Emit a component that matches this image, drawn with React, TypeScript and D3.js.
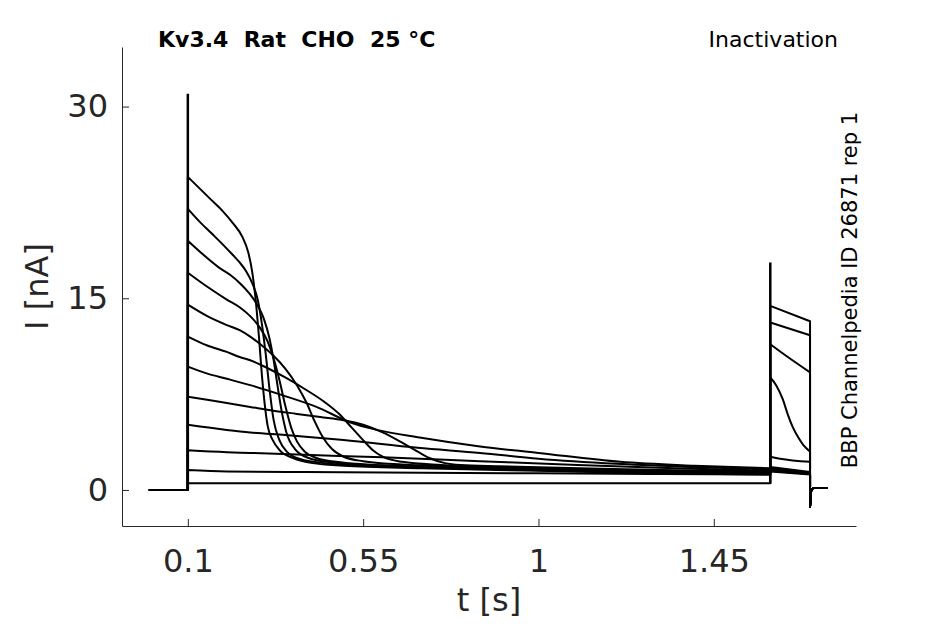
import { useEffect, useRef } from "react";
import * as d3 from "d3";

type Pt = [number, number]; // [time in s, current in nA]

// axis setup
const xTicks = [0.1, 0.55, 1, 1.45];
const yTicks = [0, 15, 30];
const xDomain: [number, number] = [-0.069, 1.815];
const yDomain: [number, number] = [-2.82, 34.66];

// holding level before the step and the tail after the test pulse
const baseline: Pt[] = [[0, 0], [0.1, 0]];
const tail: Pt[] = [[1.697, -1.3], [1.7, 0.0], [1.706, 0.15], [1.743, 0.15]];

// capacitive transients at the step onsets
const transients = [
  { t: 0.1, low: 0, peak: 31.0 },
  { t: 1.595, low: 0.5, peak: 17.8 },
];

// conditioning step, one sweep per voltage (highest current first)
const cond1: Pt[] = [[0.1, 24.5], [0.13, 23.6], [0.16, 22.7], [0.19, 21.8], [0.215, 20.9], [0.24, 19.8], [0.255, 18.6], [0.265, 17.1], [0.275, 14.6], [0.283, 11.8], [0.29, 9.0], [0.297, 6.8], [0.305, 5.0], [0.318, 3.9], [0.336, 3.1], [0.37, 2.5], [0.42, 2.1], [0.5, 1.9], [0.7, 1.7], [1.0, 1.5], [1.3, 1.3], [1.595, 1.2]];
const cond2: Pt[] = [[0.1, 22.0], [0.13, 21.0], [0.16, 20.1], [0.19, 19.2], [0.215, 18.4], [0.233, 17.8], [0.25, 17.1], [0.265, 16.2], [0.28, 14.8], [0.29, 13.0], [0.3, 10.6], [0.31, 7.8], [0.32, 5.5], [0.335, 3.9], [0.354, 3.0], [0.39, 2.4], [0.45, 2.1], [0.55, 1.9], [0.75, 1.75], [1.0, 1.55], [1.3, 1.35], [1.595, 1.25]];
const cond3: Pt[] = [[0.1, 19.5], [0.14, 18.4], [0.18, 17.4], [0.21, 16.8], [0.233, 16.2], [0.26, 15.3], [0.28, 14.4], [0.295, 13.4], [0.31, 11.8], [0.32, 10.2], [0.33, 8.2], [0.34, 6.3], [0.352, 4.6], [0.375, 3.2], [0.41, 2.5], [0.47, 2.15], [0.6, 1.9], [0.8, 1.75], [1.0, 1.6], [1.3, 1.4], [1.595, 1.3]];
const cond4: Pt[] = [[0.1, 17.0], [0.15, 15.9], [0.2, 14.9], [0.233, 14.3], [0.26, 13.6], [0.285, 12.7], [0.305, 11.6], [0.32, 10.3], [0.335, 8.6], [0.35, 6.6], [0.365, 4.9], [0.38, 3.8], [0.4, 3.0], [0.43, 2.5], [0.48, 2.2], [0.56, 2.0], [0.7, 1.85], [1.0, 1.6], [1.3, 1.45], [1.595, 1.3]];
const cond5: Pt[] = [[0.1, 14.5], [0.15, 13.6], [0.2, 12.9], [0.233, 12.5], [0.26, 12.0], [0.29, 11.3], [0.32, 10.5], [0.35, 9.5], [0.38, 8.2], [0.405, 6.8], [0.425, 5.4], [0.445, 4.2], [0.47, 3.2], [0.5, 2.6], [0.55, 2.25], [0.65, 2.0], [0.8, 1.85], [1.0, 1.65], [1.3, 1.45], [1.595, 1.35]];
const cond6: Pt[] = [[0.1, 12.0], [0.15, 11.3], [0.2, 10.8], [0.233, 10.4], [0.26, 10.15], [0.3, 9.6], [0.35, 8.8], [0.4, 7.9], [0.45, 6.9], [0.49, 5.9], [0.52, 4.9], [0.55, 3.9], [0.575, 3.1], [0.6, 2.6], [0.65, 2.2], [0.75, 1.95], [0.9, 1.8], [1.1, 1.65], [1.35, 1.45], [1.595, 1.35]];
const cond7: Pt[] = [[0.1, 9.65], [0.15, 9.1], [0.2, 8.7], [0.26, 8.2], [0.344, 7.4], [0.43, 6.5], [0.516, 5.3], [0.585, 4.7], [0.695, 4.1], [0.85, 3.4], [1.0, 2.9], [1.21, 2.2], [1.4, 1.9], [1.595, 1.7]];
const cond8: Pt[] = [[0.1, 7.3], [0.2, 6.8], [0.26, 6.5], [0.32, 6.2], [0.38, 5.95], [0.44, 5.7], [0.5, 5.45], [0.55, 5.1], [0.6, 4.5], [0.65, 3.7], [0.69, 3.0], [0.72, 2.5], [0.76, 2.1], [0.8, 1.95], [0.9, 1.85], [1.1, 1.7], [1.35, 1.55], [1.595, 1.45]];
const cond9: Pt[] = [[0.1, 5.1], [0.2, 4.7], [0.26, 4.5], [0.35, 4.3], [0.5, 3.9], [0.69, 3.3], [0.85, 2.9], [1.0, 2.45], [1.2, 2.05], [1.4, 1.8], [1.595, 1.6]];
const cond10: Pt[] = [[0.1, 3.1], [0.2, 2.95], [0.26, 2.9], [0.4, 2.75], [0.6, 2.55], [0.85, 2.25], [1.1, 1.95], [1.35, 1.7], [1.595, 1.5]];
const cond11: Pt[] = [[0.1, 1.56], [0.2, 1.45], [0.4, 1.4], [0.7, 1.35], [1.0, 1.3], [1.3, 1.25], [1.595, 1.2]];
const cond12: Pt[] = [[0.1, 0.52], [0.5, 0.52], [1.0, 0.52], [1.595, 0.52]];

// test pulse after the conditioning step
const test1: Pt[] = [[1.595, 1.45], [1.697, 1.2]];
const test2: Pt[] = [[1.595, 1.5], [1.697, 1.25]];
const test3: Pt[] = [[1.595, 1.55], [1.697, 1.25]];
const test4: Pt[] = [[1.595, 1.6], [1.697, 1.3]];
const test5: Pt[] = [[1.595, 1.65], [1.697, 1.3]];
const test6: Pt[] = [[1.595, 1.7], [1.697, 1.35]];
const test7: Pt[] = [[1.595, 1.8], [1.697, 1.4]];
const test8: Pt[] = [[1.595, 2.6], [1.62, 2.45], [1.697, 2.2]];
const test9: Pt[] = [[1.595, 8.8], [1.61, 8.2], [1.627, 7.1], [1.64, 5.9], [1.653, 4.9], [1.667, 4.1], [1.68, 3.5], [1.697, 3.0]];
const test10: Pt[] = [[1.595, 11.4], [1.64, 10.4], [1.697, 9.2]];
const test11: Pt[] = [[1.595, 13.1], [1.697, 12.1]];
const test12: Pt[] = [[1.595, 14.4], [1.697, 13.2]];

const conditioning = [cond1, cond2, cond3, cond4, cond5, cond6, cond7, cond8, cond9, cond10, cond11, cond12];
const testPulse = [test1, test2, test3, test4, test5, test6, test7, test8, test9, test10, test11, test12];

const FONT = "'DejaVu Sans', sans-serif";
const AXIS_COLOR = "#262626";

export default function App() {
  const svgRef = useRef<SVGSVGElement>(null);

  useEffect(() => {
    if (!svgRef.current) return;
    const svg = d3.select(svgRef.current);
    svg.selectAll("*").remove();

    const width = 945;
    const height = 624;
    const plot = { left: 122, right: 856, top: 47, bottom: 526 };

    svg.append("rect").attr("width", width).attr("height", height).attr("fill", "#fff");

    const x = d3.scaleLinear().domain(xDomain).range([plot.left, plot.right]);
    const y = d3.scaleLinear().domain(yDomain).range([plot.bottom, plot.top]);

    // Axes (ticks point inward, no outer ticks)
    const xAxis = svg
      .append("g")
      .attr("transform", `translate(0,${plot.bottom})`)
      .call(d3.axisBottom(x).tickValues(xTicks).tickFormat((d) => `${d}`).tickSizeInner(-7).tickSizeOuter(0).tickPadding(23));
    const yAxis = svg
      .append("g")
      .attr("transform", `translate(${plot.left},0)`)
      .call(d3.axisLeft(y).tickValues(yTicks).tickFormat((d) => `${d}`).tickSizeInner(-7).tickSizeOuter(0).tickPadding(14));

    [xAxis, yAxis].forEach((g) => {
      g.attr("font-family", FONT).attr("font-size", 32);
      g.selectAll("path, line").attr("stroke", AXIS_COLOR).attr("stroke-width", 1);
      g.selectAll("text").attr("fill", AXIS_COLOR);
    });

    // Axis labels
    svg
      .append("text")
      .attr("x", (plot.left + plot.right) / 2)
      .attr("y", 611)
      .attr("text-anchor", "middle")
      .attr("font-family", FONT)
      .attr("font-size", 32)
      .attr("fill", AXIS_COLOR)
      .text("t [s]");

    svg
      .append("text")
      .attr("transform", `translate(48,${(plot.top + plot.bottom) / 2}) rotate(-90)`)
      .attr("text-anchor", "middle")
      .attr("font-family", FONT)
      .attr("font-size", 32)
      .attr("fill", AXIS_COLOR)
      .text("I [nA]");

    // Header texts
    svg
      .append("text")
      .attr("x", 158)
      .attr("y", 47)
      .attr("font-family", FONT)
      .attr("font-weight", "bold")
      .attr("font-size", 22)
      .attr("fill", "#000")
      .style("white-space", "pre")
      .text("Kv3.4  Rat  CHO  25 °C");

    svg
      .append("text")
      .attr("x", 838)
      .attr("y", 47)
      .attr("text-anchor", "end")
      .attr("font-family", FONT)
      .attr("font-size", 22)
      .attr("fill", "#000")
      .text("Inactivation");

    svg
      .append("text")
      .attr("transform", `translate(857,290) rotate(-90)`)
      .attr("text-anchor", "middle")
      .attr("font-family", FONT)
      .attr("font-size", 21)
      .attr("fill", "#000")
      .text("BBP Channelpedia ID 26871 rep 1");

    // Traces
    const linear = d3
      .line<Pt>()
      .x((d) => x(d[0]))
      .y((d) => y(d[1]));
    const smooth = d3
      .line<Pt>()
      .x((d) => x(d[0]))
      .y((d) => y(d[1]))
      .curve(d3.curveMonotoneX);

    // glue path pieces into one continuous sweep (vertical jumps at the steps)
    const join = (parts: string[]) => parts.map((p, i) => (i === 0 ? p : p.replace(/^M/, "L"))).join("");

    const traces = svg.append("g").attr("fill", "none").attr("stroke", "#000").attr("stroke-width", 2);

    conditioning.forEach((cond, i) => {
      traces
        .append("path")
        .attr("stroke-linejoin", "round")
        .attr("d", join([linear(baseline)!, smooth(cond)!, smooth(testPulse[i])!, linear(tail)!]));
    });

    traces
      .selectAll("line.transient")
      .data(transients)
      .join("line")
      .attr("class", "transient")
      .attr("x1", (d) => x(d.t))
      .attr("x2", (d) => x(d.t))
      .attr("y1", (d) => y(d.low))
      .attr("y2", (d) => y(d.peak))
      .attr("stroke-width", 2.5);
  }, []);

  return (
    <svg
      ref={svgRef}
      width={945}
      height={624}
      style={{ position: "absolute", left: 0, top: 0, display: "block" }}
    />
  );
}
